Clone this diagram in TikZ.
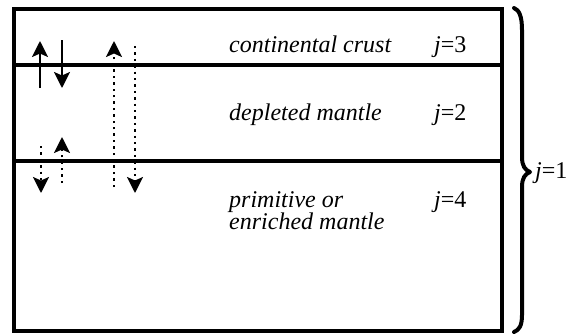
\documentclass[tikz,border=0pt]{standalone}
\usepackage{fontspec}
\setmainfont{Liberation Serif}
\usetikzlibrary{arrows.meta}
\tikzset{
  frame/.style={line width=4.6pt},
  layerline/.style={line width=4.4pt},
  flux/.style={line width=2.2pt, -{Stealth[length=16pt,width=16pt,inset=3.5pt]}},
  dotflux/.style={flux, dash pattern=on 2.4pt off 4pt},
  lbl/.style={anchor=base west, inner sep=0pt, font=\fontsize{24}{26}\selectfont\itshape},
  jlbl/.style={anchor=base west, inner sep=0pt, font=\fontsize{24}{26}\selectfont},
  brace/.style={line width=4pt, line cap=round, line join=round}
}
\begin{document}
\begin{tikzpicture}[x=1pt,y=-1pt]
\useasboundingbox (0,0) rectangle (585,335);
% reservoir box and interfaces
\coordinate (tl) at (14,9);
\coordinate (br) at (502,331);
\draw[frame] (tl) rectangle (br);
\coordinate (c1l) at (14,65);  \coordinate (c1r) at (502,65);
\coordinate (c2l) at (14,161); \coordinate (c2r) at (502,161);
\draw[layerline] (c1l) -- (c1r);
\draw[layerline] (c2l) -- (c2r);
% layer names
\node[lbl] (crust) at (229,52) {continental crust};
\node[lbl] (dm) at (229,120) {depleted mantle};
\node[lbl] (pm) at (229,207) {primitive or};
\node[lbl] (em) at (229,229) {enriched mantle};
\node[jlbl] (j3) at (434,52) {\textit{j}=3};
\node[jlbl] (j2) at (434,120) {\textit{j}=2};
\node[jlbl] (j4) at (434,207) {\textit{j}=4};
\node[jlbl] (j1) at (535,178) {\textit{j}=1};
% mass fluxes between reservoirs
\coordinate (a1s) at (40,88);  \coordinate (a1e) at (40,41);
\coordinate (a2s) at (62,40);  \coordinate (a2e) at (62,88);
\coordinate (b1s) at (114,187); \coordinate (b1e) at (114,41);
\coordinate (b2s) at (135,46);  \coordinate (b2e) at (135,193);
\coordinate (d1s) at (41,146);  \coordinate (d1e) at (41,193);
\coordinate (d2s) at (62,183);  \coordinate (d2e) at (62,137);
\draw[flux] (a1s) -- (a1e);
\draw[flux] (a2s) -- (a2e);
\draw[dotflux] (b1s) -- (b1e);
\draw[dotflux] (b2s) -- (b2e);
\draw[dotflux] (d1s) -- (d1e);
\draw[dotflux] (d2s) -- (d2e);
% brace spanning the whole mantle-crust system
\coordinate (btop) at (514,8);
\coordinate (btip) at (530,172);
\coordinate (bbot) at (514,332);
\draw[brace] (btop) .. controls (519,10) and (522,16) .. (522,30)
  -- (522,157) .. controls (522,166) and (525,170) .. (btip)
  .. controls (525,174) and (522,178) .. (522,187)
  -- (522,315) .. controls (522,326) and (519,330) .. (bbot);
\end{tikzpicture}
\end{document}
